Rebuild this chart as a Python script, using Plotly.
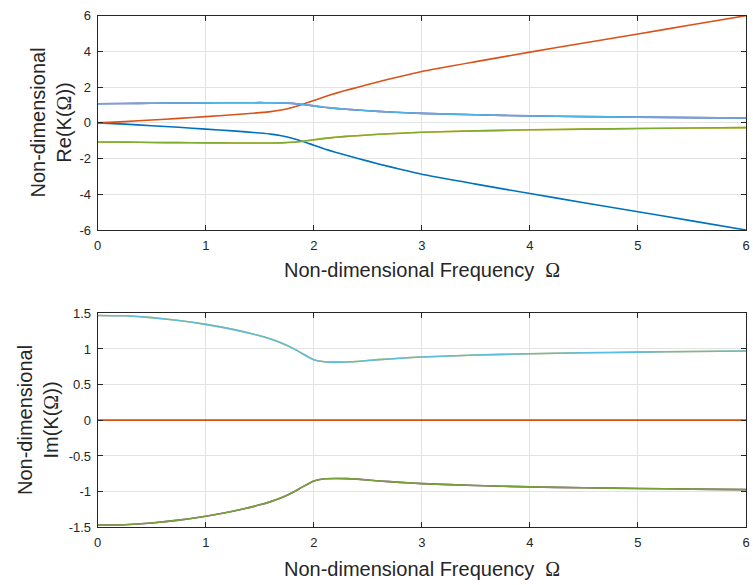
import plotly.graph_objects as go

# Non-dimensional frequency samples
omega = [0, 0.25, 0.5, 0.75, 1.0, 1.25, 1.5, 1.6, 1.7, 1.8, 1.9, 2.0, 2.1, 2.2,
         2.3, 2.4, 2.6, 2.8, 3.0, 3.5, 4.0, 4.5, 5.0, 5.5, 6.0]

# Real parts of the six roots K(Omega)
re_k1 = [0, -0.07, -0.16, -0.25, -0.35, -0.45, -0.57, -0.63, -0.72, -0.86, -1.04, -1.25, -1.46,
         -1.65, -1.82, -1.98, -2.30, -2.60, -2.88, -3.43, -3.96, -4.47, -4.98, -5.49, -6.00]
re_k2 = [0, 0.07, 0.16, 0.25, 0.35, 0.45, 0.57, 0.63, 0.72, 0.86, 1.04, 1.25, 1.46,
         1.65, 1.82, 1.98, 2.30, 2.60, 2.88, 3.43, 3.96, 4.47, 4.98, 5.49, 6.00]
re_k3 = [-1.07, -1.08, -1.10, -1.11, -1.12, -1.125, -1.13, -1.128, -1.12, -1.09, -1.03, -0.95, -0.87,
         -0.81, -0.76, -0.72, -0.64, -0.58, -0.53, -0.45, -0.39, -0.35, -0.32, -0.29, -0.27]
re_k4 = [1.07, 1.08, 1.10, 1.11, 1.12, 1.125, 1.13, 1.128, 1.12, 1.09, 1.03, 0.95, 0.87,
         0.81, 0.76, 0.72, 0.64, 0.58, 0.53, 0.45, 0.39, 0.35, 0.32, 0.29, 0.27]
re_k5 = [-1.07, -1.08, -1.10, -1.11, -1.12, -1.125, -1.13, -1.128, -1.12, -1.09, -1.03, -0.95, -0.87,
         -0.81, -0.76, -0.72, -0.64, -0.58, -0.53, -0.45, -0.39, -0.35, -0.32, -0.29, -0.27]
re_k6 = [1.07, 1.08, 1.10, 1.11, 1.12, 1.125, 1.13, 1.128, 1.12, 1.09, 1.03, 0.95, 0.87,
         0.81, 0.76, 0.72, 0.64, 0.58, 0.53, 0.45, 0.39, 0.35, 0.32, 0.29, 0.27]

# Imaginary parts of the six roots K(Omega)
im_k1 = [0.0] * 25
im_k2 = [0.0] * 25
im_k3 = [1.47, 1.465, 1.44, 1.40, 1.345, 1.275, 1.185, 1.14, 1.085, 1.015, 0.93, 0.85, 0.82,
         0.815, 0.818, 0.825, 0.85, 0.87, 0.888, 0.915, 0.933, 0.946, 0.956, 0.965, 0.972]
im_k4 = [-1.47, -1.465, -1.44, -1.40, -1.345, -1.275, -1.185, -1.14, -1.085, -1.015, -0.93, -0.85, -0.82,
         -0.815, -0.818, -0.825, -0.85, -0.87, -0.888, -0.915, -0.933, -0.946, -0.956, -0.965, -0.972]
im_k5 = [-1.47, -1.465, -1.44, -1.40, -1.345, -1.275, -1.185, -1.14, -1.085, -1.015, -0.93, -0.85, -0.82,
         -0.815, -0.818, -0.825, -0.85, -0.87, -0.888, -0.915, -0.933, -0.946, -0.956, -0.965, -0.972]
im_k6 = [1.47, 1.465, 1.44, 1.40, 1.345, 1.275, 1.185, 1.14, 1.085, 1.015, 0.93, 0.85, 0.82,
         0.815, 0.818, 0.825, 0.85, 0.87, 0.888, 0.915, 0.933, 0.946, 0.956, 0.965, 0.972]

x_ticks = [0, 1, 2, 3, 4, 5, 6]
re_ticks = [-6, -4, -2, 0, 2, 4, 6]
re_tick_text = ["-6", "-4", "-2", "0", "2", "4", "6"]
im_ticks = [-1.5, -1, -0.5, 0, 0.5, 1, 1.5]
im_tick_text = ["-1.5", "-1", "-0.5", "0", "0.5", "1", "1.5"]

colors = ["#0072BD", "#D95319", "#EDB120", "#7E2F8E", "#77AC30", "#4DBEEE"]
opac = [1, 1, 1, 1, 0.93, 0.93]

re_series = [re_k1, re_k2, re_k3, re_k4, re_k5, re_k6]
im_series = [im_k1, im_k2, im_k3, im_k4, im_k5, im_k6]

fig = go.Figure()
for i, ys in enumerate(re_series):
    fig.add_trace(go.Scatter(x=omega, y=ys, mode="lines", xaxis="x", yaxis="y",
                             line=dict(color=colors[i], width=1.6, shape="spline", smoothing=0.5),
                             opacity=opac[i], showlegend=False, hoverinfo="skip"))
for i, ys in enumerate(im_series):
    fig.add_trace(go.Scatter(x=omega, y=ys, mode="lines", xaxis="x2", yaxis="y2",
                             line=dict(color=colors[i], width=1.6, shape="spline", smoothing=0.5),
                             opacity=opac[i], showlegend=False, hoverinfo="skip"))

W, H = 753, 585
ax_color = "#262626"
tick_font = dict(family="Liberation Sans, Arial, sans-serif", size=13, color=ax_color)
common = dict(showline=True, linecolor=ax_color, linewidth=1, mirror="ticks",
              ticks="inside", ticklen=5, tickcolor=ax_color, tickwidth=1,
              showgrid=True, gridcolor="#e3e3e3", gridwidth=1, zeroline=False,
              tickfont=tick_font, ticklabelstandoff=3, automargin=False)

x_dom = [97.7 / W, 746 / W]
fig.update_layout(
    width=W, height=H,
    margin=dict(l=0, r=0, t=0, b=0),
    paper_bgcolor="white", plot_bgcolor="white",
    xaxis=dict(domain=x_dom, range=[0, 6], tickvals=x_ticks, anchor="y", **common),
    yaxis=dict(domain=[1 - 230 / H, 1 - 15.7 / H], range=[-6, 6], tickvals=re_ticks,
               ticktext=re_tick_text, anchor="x", **common),
    xaxis2=dict(domain=x_dom, range=[0, 6], tickvals=x_ticks, anchor="y2", **common),
    yaxis2=dict(domain=[1 - 527.3 / H, 1 - 313.3 / H], range=[-1.5, 1.5], tickvals=im_ticks,
                ticktext=im_tick_text, anchor="x2", **common),
)

title_font = dict(family="Liberation Sans, Arial, sans-serif", size=20, color=ax_color)
omega_sym = '<span style="font-family:Liberation Serif">Ω</span>'
x_title = "Non-dimensional Frequency  " + omega_sym

annos = [
    dict(text=x_title, x=422 / W, y=1 - 270 / H),
    dict(text=x_title, x=422 / W, y=1 - 569 / H),
    dict(text="Non-dimensional<br>Re(K(" + omega_sym + "))", x=50.5 / W, y=1 - 123 / H, textangle=-90),
    dict(text="Non-dimensional<br>Im(K(" + omega_sym + "))", x=38 / W, y=1 - 420 / H, textangle=-90),
]
for a in annos:
    fig.add_annotation(xref="paper", yref="paper", xanchor="center", yanchor="middle",
                       showarrow=False, font=title_font, **a)

fig.write_html("out.html")
